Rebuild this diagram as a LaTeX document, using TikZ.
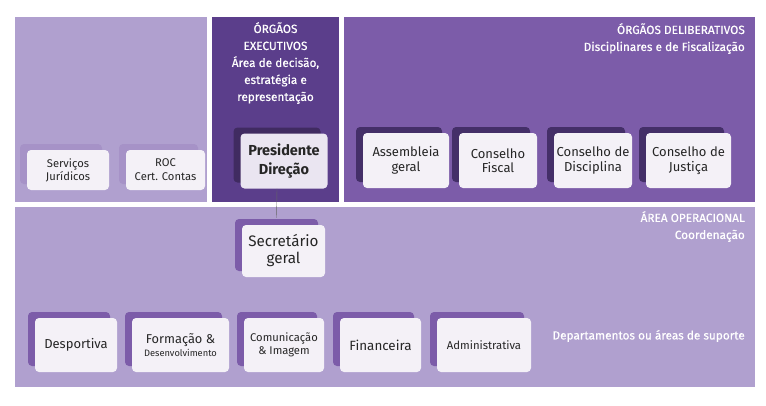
\documentclass[tikz,border=0pt]{standalone}
\usepackage{fontspec}
\setmainfont{Fira Sans}
\newfontfamily\medio{Fira Sans}[FakeBold=0.5]
\usetikzlibrary{shadows}

\definecolor{lila}{HTML}{B0A0CF}
\definecolor{viola}{HTML}{7C5CA9}
\definecolor{scuro}{HTML}{5B3E8B}
\definecolor{carta}{HTML}{F4F1F7}

\begin{document}
\begin{tikzpicture}[x=1pt,y=-1pt,
		box/.style={rounded corners=4pt, fill=carta, align=center, inner sep=2pt, text=black!85,
			font=\fontsize{13}{14.5}\selectfont,
			drop shadow={shadow xshift=-7pt, shadow yshift=6pt, fill=#1, opacity=1}},
		box/.default={viola},
		titolo/.style={text=white, font=\medio\fontsize{11.8}{17}\selectfont, inner sep=0pt}]
		\useasboundingbox (0,0) rectangle (766,405);

		% aree
		\fill[lila] (15,17) rectangle (207,202);
		\fill[scuro] (212,17) rectangle (339,202);
		\fill[viola] (344,17) rectangle (755,202);
		\fill[lila] (15,207) rectangle (755,387);

		\node[titolo, align=center, anchor=north] (exe) at (275.5,22)
			{ÓRGÃOS\\EXECUTIVOS\\Área de decisão,\\estratégia e\\representação};
		\node[titolo, align=right, anchor=north east] (del) at (745,23)
			{ÓRGÃOS DELIBERATIVOS\\Disciplinares e de Fiscalização};
		\node[titolo, align=right, anchor=north east] (ope) at (745,211)
			{ÁREA OPERACIONAL\\Coordenação};
		\node[titolo, anchor=east] (sup) at (745,336) {Departamentos ou áreas de suporte};

		% apoio
		\node[box=lila!80!viola, minimum width=82pt, minimum height=40pt, font=\fontsize{11.2}{13}\selectfont] (jur) at (68,170) {Serviços\\Jurídicos};
		\node[box=lila!80!viola, minimum width=79pt, minimum height=40pt, font=\fontsize{11.2}{14}\selectfont] (roc) at (165.5,170) {ROC\\Cert. Contas};

		% direzione
		\node[box=scuro!70!black, fill=carta!85!lila, minimum width=87pt, minimum height=55pt, font=\bfseries\fontsize{14.5}{19}\selectfont] (pres) at (284,161) {Presidente\\Direção};

		% organi deliberativi
		\node[box=scuro!75!black, minimum width=86pt, minimum height=55pt] (asm) at (406,160.5) {Assembleia\\geral};
		\node[box=scuro!75!black, minimum width=78pt, minimum height=55pt] (fis) at (498,160.5) {Conselho\\Fiscal};
		\node[box=scuro!75!black, minimum width=78pt, minimum height=55pt] (dis) at (593,160.5) {Conselho de\\Disciplina};
		\node[box=scuro!75!black, minimum width=85pt, minimum height=55pt] (jus) at (688.5,160.5) {Conselho de\\Justiça};

		% area operativa
		\node[box, minimum width=83pt, minimum height=52pt, font=\fontsize{15.2}{17}\selectfont] (sec) at (283.5,251) {Secretário\\geral};

		\node[box, minimum width=82pt, minimum height=54pt] (desp) at (76,345) {Desportiva};
		\node[box, minimum width=97pt, minimum height=54pt, font=\fontsize{12.8}{13.5}\selectfont] (form) at (180.5,345) {Formação \&\\{\fontsize{9.3}{10}\selectfont Desenvolvimento}};
		\node[box, minimum width=80pt, minimum height=54pt, font=\fontsize{11.2}{12.5}\selectfont] (com) at (284,345) {Comunicação\\\& Imagem};
		\node[box, minimum width=81pt, minimum height=54pt, font=\fontsize{13.4}{14}\selectfont] (fin) at (380.5,345) {Financeira};
		\node[box, minimum width=94pt, minimum height=54pt, font=\fontsize{11.3}{12}\selectfont] (adm) at (484,345) {Administrativa};

		\draw[black!60, thin] ([xshift=-7pt]pres.south) -- ([xshift=-7pt,yshift=7pt]sec.north);

	\end{tikzpicture}
\end{document}
